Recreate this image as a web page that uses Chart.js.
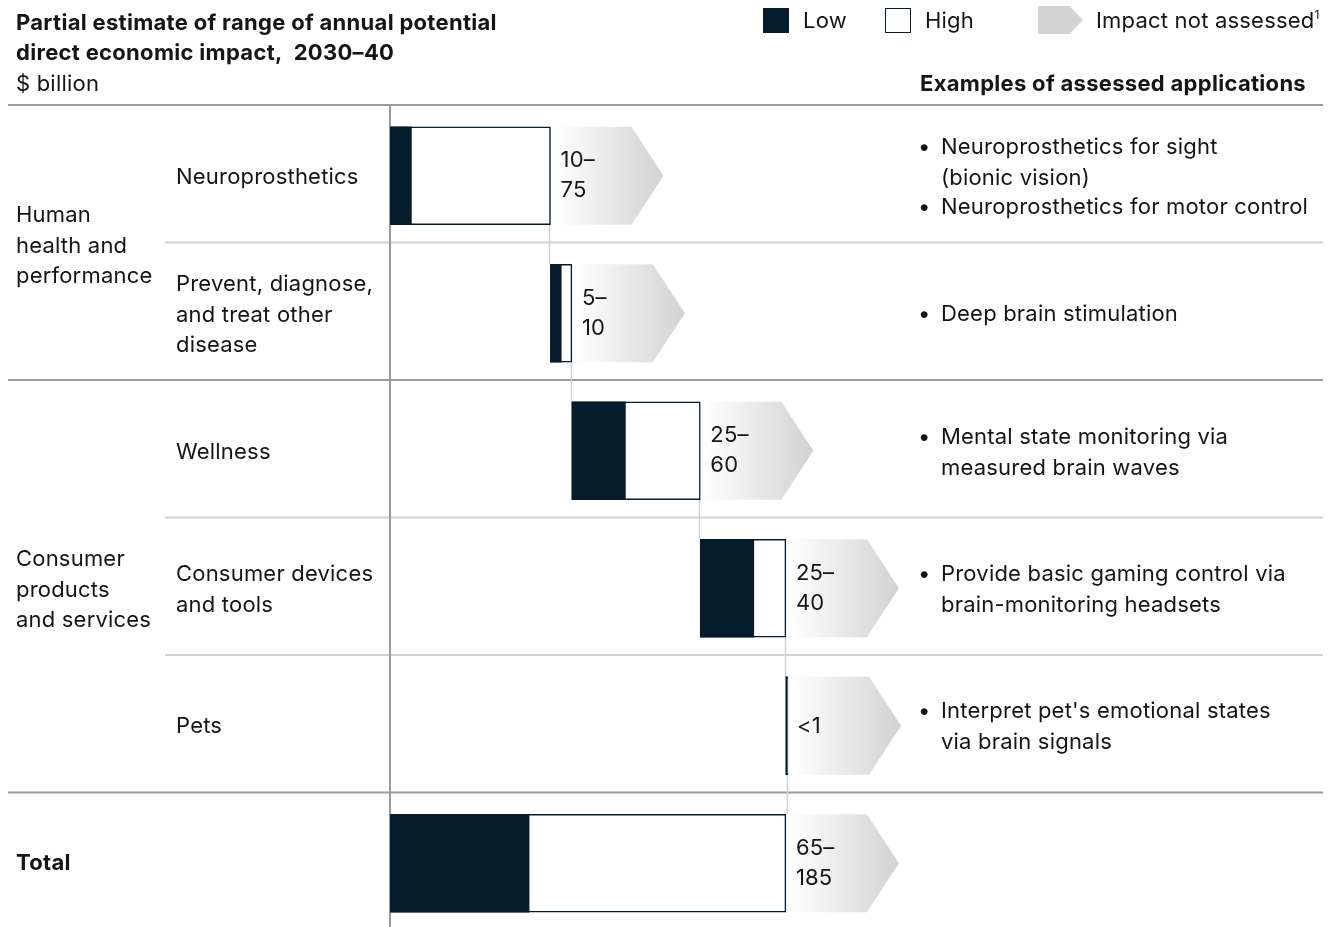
<!DOCTYPE html>
<html>
<head>
<meta charset="utf-8">
<script src="https://cdn.jsdelivr.net/npm/chart.js@4.4.1/dist/chart.umd.min.js"></script>
<style>
  body { margin: 0; overflow: hidden; background: #fff; }
  #wrap { position: relative; width: 1333px; height: 927px; overflow: hidden;
          font-family: Inter, "Liberation Sans", Arial, sans-serif; color: #151515; }
  #chart { position: absolute; left: 0; top: 0; }
  .t { position: absolute; font-size: 22px; letter-spacing: 0.2px; line-height: 30.5px; white-space: nowrap; }
  .b { font-weight: 700; letter-spacing: 0.3px; }
  .bul { position: absolute; font-size: 22px; letter-spacing: 0.2px; line-height: 30.5px; white-space: nowrap; }
  .bul span { position: absolute; left: -23px; }
  .sw { position: absolute; box-sizing: border-box; }
  sup { font-size: 12px; line-height: 0; vertical-align: 9px; }
</style>
</head>
<body>
<div id="wrap">
  <canvas id="chart" width="1333" height="932"></canvas>

  <!-- title block -->
  <div class="t b" style="left:16px; top:7px; font-size:22px; line-height:30px;">Partial estimate of range of annual potential<br>direct economic impact,&nbsp; 2030–40</div>
  <div class="t" style="left:16px; top:68px;">$ billion</div>

  <!-- legend -->
  <div class="sw" style="left:763px; top:8px; width:26px; height:25px; background:#051c2c;"></div>
  <div class="t" style="left:803px; top:5px;">Low</div>
  <div class="sw" style="left:885px; top:8px; width:26px; height:25px; border:1.5px solid #051c2c;"></div>
  <div class="t" style="left:925px; top:5px;">High</div>
  <div class="sw" style="left:1038px; top:6px; width:45px; height:28px; background:#d4d4d4; clip-path:polygon(0 0,70% 0,100% 50%,70% 100%,0 100%);"></div>
  <div class="t" style="left:1096px; top:5px;">Impact not assessed<sup>1</sup></div>

  <div class="t b" style="right:27px; top:68px;">Examples of assessed applications</div>

  <!-- group labels -->
  <div class="t" style="left:16px; top:199px;">Human<br>health and<br>performance</div>
  <div class="t" style="left:16px; top:543px;">Consumer<br>products<br>and services</div>
  <div class="t b" style="left:16px; top:847px;">Total</div>

  <!-- category labels -->
  <div class="t" style="left:176px; top:161px;">Neuroprosthetics</div>
  <div class="t" style="left:176px; top:268px;">Prevent, diagnose,<br>and treat other<br>disease</div>
  <div class="t" style="left:176px; top:436px;">Wellness</div>
  <div class="t" style="left:176px; top:558px;">Consumer devices<br>and tools</div>
  <div class="t" style="left:176px; top:710px;">Pets</div>

  <!-- examples -->
  <div class="bul" style="left:941px; top:131px;"><span>•</span>Neuroprosthetics for sight<br>(bionic vision)</div>
  <div class="bul" style="left:941px; top:191px;"><span>•</span>Neuroprosthetics for motor control</div>
  <div class="bul" style="left:941px; top:298px;"><span>•</span>Deep brain stimulation</div>
  <div class="bul" style="left:941px; top:421px;"><span>•</span>Mental state monitoring via<br>measured brain waves</div>
  <div class="bul" style="left:941px; top:558px;"><span>•</span>Provide basic gaming control via<br>brain-monitoring headsets</div>
  <div class="bul" style="left:941px; top:695px;"><span>•</span>Interpret pet's emotional states<br>via brain signals</div>
</div>

<script>
// values in $ billion
const categories = ['Neuroprosthetics', 'Prevent, diagnose, and treat other disease', 'Wellness',
                    'Consumer devices and tools', 'Pets', 'Total'];
const lowValues  = [10, 5, 25, 25, 0.5, 65];
const highValues = [75, 10, 60, 40, 1, 185];
const valueLabels = [['10–', '75'], ['5–', '10'], ['25–', '60'], ['25–', '40'], ['<1'], ['65–', '185']];
const isTotal = [false, false, false, false, false, true];
// row separators: 'full' spans all columns, 'sub' starts at the category column
const rowLines = ['full', 'sub', 'full', 'sub', 'sub', 'full'];

const DARK = '#051c2c';

// waterfall bases
const bases = [];
let running = 0;
categories.forEach((c, i) => {
  if (isTotal[i]) { bases.push(0); return; }
  bases.push(running);
  running += highValues[i];
});

const highData = highValues.map((v, i) => [bases[i], bases[i] + v]);
const lowData  = lowValues.map((v, i) => [bases[i], bases[i] + v]);

const ROW_H = 137.5;
const BAR_H = 98;
const BAR_SHIFT = 2; // bars sit a touch below the row centre

const decorPlugin = {
  id: 'decor',
  beforeDatasetsDraw(chart) {
    const { ctx, chartArea, scales: { x, y } } = chart;
    ctx.save();

    // row separators
    rowLines.forEach((kind, i) => {
      const yy = y.getPixelForValue(i) - ROW_H / 2;
      ctx.beginPath();
      ctx.strokeStyle = kind === 'full' ? '#9b9b9b' : '#d3d3d3';
      ctx.lineWidth = 2;
      ctx.moveTo(kind === 'full' ? 8 : 165, yy);
      ctx.lineTo(1323, yy);
      ctx.stroke();
    });

    // baseline axis
    ctx.beginPath();
    ctx.strokeStyle = '#9b9b9b';
    ctx.lineWidth = 2;
    ctx.moveTo(chartArea.left, chartArea.top);
    ctx.lineTo(chartArea.left, chartArea.bottom);
    ctx.stroke();

    // connectors between consecutive bars
    ctx.strokeStyle = '#d0d0d0';
    ctx.lineWidth = 1.5;
    for (let i = 0; i < categories.length - 1; i++) {
      const xx = Math.round(x.getPixelForValue(highData[i][1])) - 0.5;
      ctx.beginPath();
      ctx.moveTo(xx, y.getPixelForValue(i) + BAR_SHIFT + BAR_H / 2);
      ctx.lineTo(xx, y.getPixelForValue(i + 1) + BAR_SHIFT - BAR_H / 2);
      ctx.stroke();
    }

    // "impact not assessed" chevrons
    categories.forEach((c, i) => {
      const end = x.getPixelForValue(highData[i][1]);
      const cy = y.getPixelForValue(i) + BAR_SHIFT;
      const left = end + 4, tip = end + 113, shoulder = tip - 32;
      const g = ctx.createLinearGradient(left, 0, tip, 0);
      g.addColorStop(0, '#ffffff');
      g.addColorStop(0.25, '#f4f4f4');
      g.addColorStop(1, '#d2d2d2');
      ctx.fillStyle = g;
      ctx.beginPath();
      ctx.moveTo(left, cy - BAR_H / 2);
      ctx.lineTo(shoulder, cy - BAR_H / 2);
      ctx.lineTo(tip, cy);
      ctx.lineTo(shoulder, cy + BAR_H / 2);
      ctx.lineTo(left, cy + BAR_H / 2);
      ctx.closePath();
      ctx.fill();
    });
    ctx.restore();

    // nudge the bars down with the chevrons
    ctx.save();
    ctx.translate(0, BAR_SHIFT);
  },
  afterDatasetsDraw(chart) {
    const { ctx, scales: { x, y } } = chart;
    ctx.restore();
    ctx.save();
    ctx.fillStyle = '#151515';
    ctx.font = '22px Inter, "Liberation Sans", Arial, sans-serif';
    ctx.letterSpacing = '0.2px';
    ctx.textBaseline = 'middle';
    valueLabels.forEach((lines, i) => {
      const end = x.getPixelForValue(highData[i][1]);
      const cy = y.getPixelForValue(i) + BAR_SHIFT;
      if (lines.length === 1) {
        ctx.fillText(lines[0], end + 9, cy + 1);
      } else {
        ctx.fillText(lines[0], end + 10, cy - 15);
        ctx.fillText(lines[1], end + 10, cy + 15);
      }
    });
    ctx.restore();
  }
};

new Chart(document.getElementById('chart'), {
  type: 'bar',
  data: {
    labels: categories,
    datasets: [
      {
        label: 'High',
        data: highData,
        backgroundColor: '#ffffff',
        borderColor: DARK,
        borderWidth: 1.5,
        borderSkipped: false,
        grouped: false,
        barThickness: BAR_H,
        order: 2
      },
      {
        label: 'Low',
        data: lowData,
        backgroundColor: DARK,
        borderColor: DARK,
        borderWidth: 0,
        borderSkipped: false,
        grouped: false,
        barThickness: BAR_H,
        order: 1
      }
    ]
  },
  options: {
    indexAxis: 'y',
    responsive: false,
    animation: false,
    layout: { padding: { left: 390, right: 10, top: 105, bottom: 2 } },
    plugins: { legend: { display: false }, tooltip: { enabled: false } },
    scales: {
      x: { type: 'linear', min: 0, max: 436, display: false },
      y: { type: 'category', offset: true, display: false }
    }
  },
  plugins: [decorPlugin]
});
</script>
</body>
</html>
